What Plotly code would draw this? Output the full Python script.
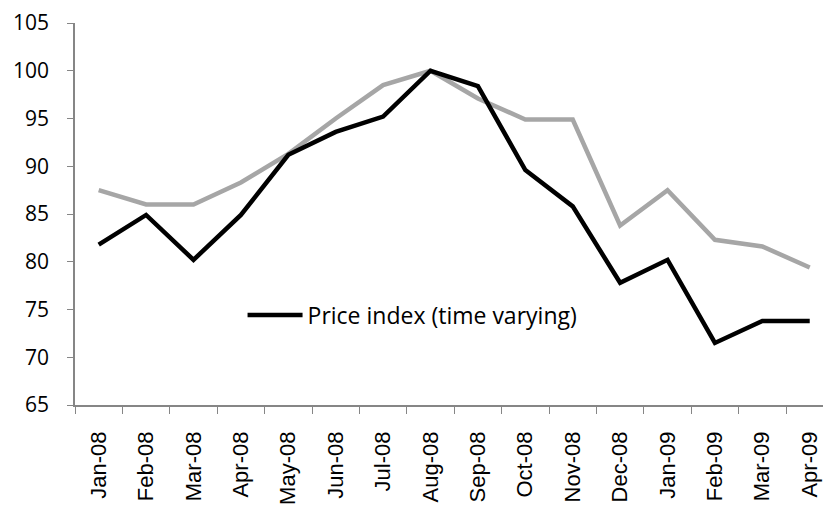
# %%
import plotly.graph_objects as go

# %%
meses = ["Jan-08", "Feb-08", "Mar-08", "Apr-08", "May-08", "Jun-08", "Jul-08", "Aug-08",
         "Sep-08", "Oct-08", "Nov-08", "Dec-08", "Jan-09", "Feb-09", "Mar-09", "Apr-09"]
indice_variable = [81.8, 84.9, 80.2, 84.9, 91.2, 93.6, 95.2, 100.0,
                   98.4, 89.6, 85.8, 77.8, 80.2, 71.5, 73.8, 73.8]
indice_fijo = [87.5, 86.0, 86.0, 88.3, 91.3, 95.0, 98.5, 100.0,
               97.1, 94.9, 94.9, 83.8, 87.5, 82.3, 81.6, 79.4]

# %%
fig = go.Figure()
fig.add_trace(go.Scatter(x=meses, y=indice_fijo, name="Price index (fixed)", mode="lines",
                         line=dict(color="#A6A6A6", width=4.5), showlegend=False))
fig.add_trace(go.Scatter(x=meses, y=indice_variable, name="Price index (time varying)", mode="lines",
                         line=dict(color="#000000", width=4.5)))

fig.update_xaxes(range=[-0.5, 15.28], showline=True, linecolor="#868686", linewidth=1.5,
                 ticks="outside", tickson="boundaries", ticklen=7, tickcolor="#868686",
                 tickangle=-90, ticklabelstandoff=16,
                 tickfont=dict(family="Liberation Sans", size=22),
                 showgrid=False, zeroline=False)
fig.update_yaxes(range=[65, 105], dtick=5, showline=True, linecolor="#868686", linewidth=1.5,
                 ticks="outside", ticklen=6, tickcolor="#868686", ticklabelstandoff=14,
                 tickfont=dict(size=21), showgrid=False, zeroline=False)
fig.update_layout(template=None, width=823, height=508, plot_bgcolor="white", paper_bgcolor="white",
                  margin=dict(l=75, r=0, t=23, b=103),
                  font=dict(family="Open Sans", size=20, color="#000000"),
                  legend=dict(x=0.224, y=0.2356, xanchor="left", yanchor="middle", itemwidth=55,
                              bgcolor="rgba(0,0,0,0)", font=dict(size=23)))
fig.write_html("out.html", config={"displayModeBar": False},
               post_script="document.body.style.margin='0';")
